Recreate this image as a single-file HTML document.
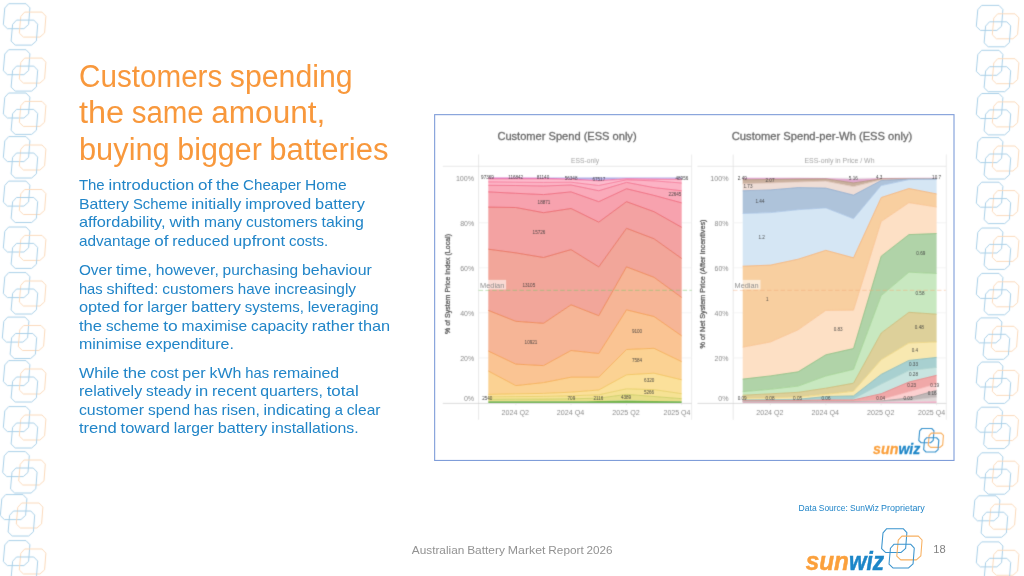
<!DOCTYPE html>
<html><head><meta charset="utf-8"><title>Slide 18</title>
<style>html,body{margin:0;padding:0;background:#fff;}body{width:1024px;height:576px;overflow:hidden;position:relative;font-family:"Liberation Sans",sans-serif;}svg{position:absolute;left:0;top:0;display:block;}text{font-family:"Liberation Sans",sans-serif;}</style>
</head><body>
<svg width="1024" height="576" viewBox="0 0 1024 576">
<defs><filter id="bl" x="-2%" y="-2%" width="104%" height="104%"><feConvolveMatrix order="3" kernelMatrix="1 6 1 6 36 6 1 6 1" edgeMode="none"/></filter><filter id="bl2" x="-5%" y="-2%" width="110%" height="104%"><feConvolveMatrix order="3" kernelMatrix="1 7 1 7 49 7 1 7 1" edgeMode="none"/></filter></defs>
<rect width="1024" height="576" fill="#ffffff"/>
<g filter="url(#bl2)">
<g transform="translate(3.30,3.70) scale(1.0000)" fill="none" stroke-width="1.00" stroke-linejoin="round"><polygon points="1.50,4.30 5.40,0.00 22.70,0.00 26.60,4.10 25.30,20.80 20.60,25.00 4.10,25.00 0.00,21.00" stroke="#aad0e8"/><polygon points="17.50,12.70 21.40,8.40 38.70,8.40 42.60,12.50 41.30,29.20 36.60,33.40 20.10,33.40 16.00,29.40" stroke="#fbdabb"/><polygon points="9.30,20.70 13.20,16.40 30.50,16.40 34.40,20.50 33.10,37.20 28.40,41.40 11.90,41.40 7.80,37.40" stroke="#aad0e8"/></g>
<g transform="translate(3.30,49.70) scale(1.0000)" fill="none" stroke-width="1.00" stroke-linejoin="round"><polygon points="1.50,4.30 5.40,0.00 22.70,0.00 26.60,4.10 25.30,20.80 20.60,25.00 4.10,25.00 0.00,21.00" stroke="#aad0e8"/><polygon points="17.50,12.70 21.40,8.40 38.70,8.40 42.60,12.50 41.30,29.20 36.60,33.40 20.10,33.40 16.00,29.40" stroke="#fbdabb"/><polygon points="9.30,20.70 13.20,16.40 30.50,16.40 34.40,20.50 33.10,37.20 28.40,41.40 11.90,41.40 7.80,37.40" stroke="#aad0e8"/></g>
<g transform="translate(3.30,93.00) scale(1.0000)" fill="none" stroke-width="1.00" stroke-linejoin="round"><polygon points="1.50,4.30 5.40,0.00 22.70,0.00 26.60,4.10 25.30,20.80 20.60,25.00 4.10,25.00 0.00,21.00" stroke="#aad0e8"/><polygon points="17.50,12.70 21.40,8.40 38.70,8.40 42.60,12.50 41.30,29.20 36.60,33.40 20.10,33.40 16.00,29.40" stroke="#fbdabb"/><polygon points="9.30,20.70 13.20,16.40 30.50,16.40 34.40,20.50 33.10,37.20 28.40,41.40 11.90,41.40 7.80,37.40" stroke="#aad0e8"/></g>
<g transform="translate(3.30,136.60) scale(1.0000)" fill="none" stroke-width="1.00" stroke-linejoin="round"><polygon points="1.50,4.30 5.40,0.00 22.70,0.00 26.60,4.10 25.30,20.80 20.60,25.00 4.10,25.00 0.00,21.00" stroke="#aad0e8"/><polygon points="17.50,12.70 21.40,8.40 38.70,8.40 42.60,12.50 41.30,29.20 36.60,33.40 20.10,33.40 16.00,29.40" stroke="#fbdabb"/><polygon points="9.30,20.70 13.20,16.40 30.50,16.40 34.40,20.50 33.10,37.20 28.40,41.40 11.90,41.40 7.80,37.40" stroke="#aad0e8"/></g>
<g transform="translate(3.30,181.10) scale(1.0000)" fill="none" stroke-width="1.00" stroke-linejoin="round"><polygon points="1.50,4.30 5.40,0.00 22.70,0.00 26.60,4.10 25.30,20.80 20.60,25.00 4.10,25.00 0.00,21.00" stroke="#aad0e8"/><polygon points="17.50,12.70 21.40,8.40 38.70,8.40 42.60,12.50 41.30,29.20 36.60,33.40 20.10,33.40 16.00,29.40" stroke="#fbdabb"/><polygon points="9.30,20.70 13.20,16.40 30.50,16.40 34.40,20.50 33.10,37.20 28.40,41.40 11.90,41.40 7.80,37.40" stroke="#aad0e8"/></g>
<g transform="translate(3.30,227.00) scale(1.0000)" fill="none" stroke-width="1.00" stroke-linejoin="round"><polygon points="1.50,4.30 5.40,0.00 22.70,0.00 26.60,4.10 25.30,20.80 20.60,25.00 4.10,25.00 0.00,21.00" stroke="#aad0e8"/><polygon points="17.50,12.70 21.40,8.40 38.70,8.40 42.60,12.50 41.30,29.20 36.60,33.40 20.10,33.40 16.00,29.40" stroke="#fbdabb"/><polygon points="9.30,20.70 13.20,16.40 30.50,16.40 34.40,20.50 33.10,37.20 28.40,41.40 11.90,41.40 7.80,37.40" stroke="#aad0e8"/></g>
<g transform="translate(3.30,272.60) scale(1.0000)" fill="none" stroke-width="1.00" stroke-linejoin="round"><polygon points="1.50,4.30 5.40,0.00 22.70,0.00 26.60,4.10 25.30,20.80 20.60,25.00 4.10,25.00 0.00,21.00" stroke="#aad0e8"/><polygon points="17.50,12.70 21.40,8.40 38.70,8.40 42.60,12.50 41.30,29.20 36.60,33.40 20.10,33.40 16.00,29.40" stroke="#fbdabb"/><polygon points="9.30,20.70 13.20,16.40 30.50,16.40 34.40,20.50 33.10,37.20 28.40,41.40 11.90,41.40 7.80,37.40" stroke="#aad0e8"/></g>
<g transform="translate(2.30,317.10) scale(1.0000)" fill="none" stroke-width="1.00" stroke-linejoin="round"><polygon points="1.50,4.30 5.40,0.00 22.70,0.00 26.60,4.10 25.30,20.80 20.60,25.00 4.10,25.00 0.00,21.00" stroke="#aad0e8"/><polygon points="17.50,12.70 21.40,8.40 38.70,8.40 42.60,12.50 41.30,29.20 36.60,33.40 20.10,33.40 16.00,29.40" stroke="#fbdabb"/><polygon points="9.30,20.70 13.20,16.40 30.50,16.40 34.40,20.50 33.10,37.20 28.40,41.40 11.90,41.40 7.80,37.40" stroke="#aad0e8"/></g>
<g transform="translate(3.30,360.60) scale(1.0000)" fill="none" stroke-width="1.00" stroke-linejoin="round"><polygon points="1.50,4.30 5.40,0.00 22.70,0.00 26.60,4.10 25.30,20.80 20.60,25.00 4.10,25.00 0.00,21.00" stroke="#aad0e8"/><polygon points="17.50,12.70 21.40,8.40 38.70,8.40 42.60,12.50 41.30,29.20 36.60,33.40 20.10,33.40 16.00,29.40" stroke="#fbdabb"/><polygon points="9.30,20.70 13.20,16.40 30.50,16.40 34.40,20.50 33.10,37.20 28.40,41.40 11.90,41.40 7.80,37.40" stroke="#aad0e8"/></g>
<g transform="translate(3.30,406.60) scale(1.0000)" fill="none" stroke-width="1.00" stroke-linejoin="round"><polygon points="1.50,4.30 5.40,0.00 22.70,0.00 26.60,4.10 25.30,20.80 20.60,25.00 4.10,25.00 0.00,21.00" stroke="#aad0e8"/><polygon points="17.50,12.70 21.40,8.40 38.70,8.40 42.60,12.50 41.30,29.20 36.60,33.40 20.10,33.40 16.00,29.40" stroke="#fbdabb"/><polygon points="9.30,20.70 13.20,16.40 30.50,16.40 34.40,20.50 33.10,37.20 28.40,41.40 11.90,41.40 7.80,37.40" stroke="#aad0e8"/></g>
<g transform="translate(2.70,451.60) scale(1.0000)" fill="none" stroke-width="1.00" stroke-linejoin="round"><polygon points="1.50,4.30 5.40,0.00 22.70,0.00 26.60,4.10 25.30,20.80 20.60,25.00 4.10,25.00 0.00,21.00" stroke="#aad0e8"/><polygon points="17.50,12.70 21.40,8.40 38.70,8.40 42.60,12.50 41.30,29.20 36.60,33.40 20.10,33.40 16.00,29.40" stroke="#fbdabb"/><polygon points="9.30,20.70 13.20,16.40 30.50,16.40 34.40,20.50 33.10,37.20 28.40,41.40 11.90,41.40 7.80,37.40" stroke="#aad0e8"/></g>
<g transform="translate(0.30,494.60) scale(1.0000)" fill="none" stroke-width="1.00" stroke-linejoin="round"><polygon points="1.50,4.30 5.40,0.00 22.70,0.00 26.60,4.10 25.30,20.80 20.60,25.00 4.10,25.00 0.00,21.00" stroke="#aad0e8"/><polygon points="17.50,12.70 21.40,8.40 38.70,8.40 42.60,12.50 41.30,29.20 36.60,33.40 20.10,33.40 16.00,29.40" stroke="#fbdabb"/><polygon points="9.30,20.70 13.20,16.40 30.50,16.40 34.40,20.50 33.10,37.20 28.40,41.40 11.90,41.40 7.80,37.40" stroke="#aad0e8"/></g>
<g transform="translate(3.30,540.60) scale(1.0000)" fill="none" stroke-width="1.00" stroke-linejoin="round"><polygon points="1.50,4.30 5.40,0.00 22.70,0.00 26.60,4.10 25.30,20.80 20.60,25.00 4.10,25.00 0.00,21.00" stroke="#aad0e8"/><polygon points="17.50,12.70 21.40,8.40 38.70,8.40 42.60,12.50 41.30,29.20 36.60,33.40 20.10,33.40 16.00,29.40" stroke="#fbdabb"/><polygon points="9.30,20.70 13.20,16.40 30.50,16.40 34.40,20.50 33.10,37.20 28.40,41.40 11.90,41.40 7.80,37.40" stroke="#aad0e8"/></g>
<g transform="translate(976.30,5.40) scale(1.0000)" fill="none" stroke-width="1.00" stroke-linejoin="round"><polygon points="1.50,4.30 5.40,0.00 22.70,0.00 26.60,4.10 25.30,20.80 20.60,25.00 4.10,25.00 0.00,21.00" stroke="#aad0e8"/><polygon points="17.50,12.70 21.40,8.40 38.70,8.40 42.60,12.50 41.30,29.20 36.60,33.40 20.10,33.40 16.00,29.40" stroke="#fbdabb"/><polygon points="9.30,20.70 13.20,16.40 30.50,16.40 34.40,20.50 33.10,37.20 28.40,41.40 11.90,41.40 7.80,37.40" stroke="#aad0e8"/></g>
<g transform="translate(976.30,50.30) scale(1.0000)" fill="none" stroke-width="1.00" stroke-linejoin="round"><polygon points="1.50,4.30 5.40,0.00 22.70,0.00 26.60,4.10 25.30,20.80 20.60,25.00 4.10,25.00 0.00,21.00" stroke="#aad0e8"/><polygon points="17.50,12.70 21.40,8.40 38.70,8.40 42.60,12.50 41.30,29.20 36.60,33.40 20.10,33.40 16.00,29.40" stroke="#fbdabb"/><polygon points="9.30,20.70 13.20,16.40 30.50,16.40 34.40,20.50 33.10,37.20 28.40,41.40 11.90,41.40 7.80,37.40" stroke="#aad0e8"/></g>
<g transform="translate(976.30,93.50) scale(1.0000)" fill="none" stroke-width="1.00" stroke-linejoin="round"><polygon points="1.50,4.30 5.40,0.00 22.70,0.00 26.60,4.10 25.30,20.80 20.60,25.00 4.10,25.00 0.00,21.00" stroke="#aad0e8"/><polygon points="17.50,12.70 21.40,8.40 38.70,8.40 42.60,12.50 41.30,29.20 36.60,33.40 20.10,33.40 16.00,29.40" stroke="#fbdabb"/><polygon points="9.30,20.70 13.20,16.40 30.50,16.40 34.40,20.50 33.10,37.20 28.40,41.40 11.90,41.40 7.80,37.40" stroke="#aad0e8"/></g>
<g transform="translate(976.30,137.60) scale(1.0000)" fill="none" stroke-width="1.00" stroke-linejoin="round"><polygon points="1.50,4.30 5.40,0.00 22.70,0.00 26.60,4.10 25.30,20.80 20.60,25.00 4.10,25.00 0.00,21.00" stroke="#aad0e8"/><polygon points="17.50,12.70 21.40,8.40 38.70,8.40 42.60,12.50 41.30,29.20 36.60,33.40 20.10,33.40 16.00,29.40" stroke="#fbdabb"/><polygon points="9.30,20.70 13.20,16.40 30.50,16.40 34.40,20.50 33.10,37.20 28.40,41.40 11.90,41.40 7.80,37.40" stroke="#aad0e8"/></g>
<g transform="translate(976.30,182.20) scale(1.0000)" fill="none" stroke-width="1.00" stroke-linejoin="round"><polygon points="1.50,4.30 5.40,0.00 22.70,0.00 26.60,4.10 25.30,20.80 20.60,25.00 4.10,25.00 0.00,21.00" stroke="#aad0e8"/><polygon points="17.50,12.70 21.40,8.40 38.70,8.40 42.60,12.50 41.30,29.20 36.60,33.40 20.10,33.40 16.00,29.40" stroke="#fbdabb"/><polygon points="9.30,20.70 13.20,16.40 30.50,16.40 34.40,20.50 33.10,37.20 28.40,41.40 11.90,41.40 7.80,37.40" stroke="#aad0e8"/></g>
<g transform="translate(976.30,228.00) scale(1.0000)" fill="none" stroke-width="1.00" stroke-linejoin="round"><polygon points="1.50,4.30 5.40,0.00 22.70,0.00 26.60,4.10 25.30,20.80 20.60,25.00 4.10,25.00 0.00,21.00" stroke="#aad0e8"/><polygon points="17.50,12.70 21.40,8.40 38.70,8.40 42.60,12.50 41.30,29.20 36.60,33.40 20.10,33.40 16.00,29.40" stroke="#fbdabb"/><polygon points="9.30,20.70 13.20,16.40 30.50,16.40 34.40,20.50 33.10,37.20 28.40,41.40 11.90,41.40 7.80,37.40" stroke="#aad0e8"/></g>
<g transform="translate(976.30,273.40) scale(1.0000)" fill="none" stroke-width="1.00" stroke-linejoin="round"><polygon points="1.50,4.30 5.40,0.00 22.70,0.00 26.60,4.10 25.30,20.80 20.60,25.00 4.10,25.00 0.00,21.00" stroke="#aad0e8"/><polygon points="17.50,12.70 21.40,8.40 38.70,8.40 42.60,12.50 41.30,29.20 36.60,33.40 20.10,33.40 16.00,29.40" stroke="#fbdabb"/><polygon points="9.30,20.70 13.20,16.40 30.50,16.40 34.40,20.50 33.10,37.20 28.40,41.40 11.90,41.40 7.80,37.40" stroke="#aad0e8"/></g>
<g transform="translate(975.30,317.90) scale(1.0000)" fill="none" stroke-width="1.00" stroke-linejoin="round"><polygon points="1.50,4.30 5.40,0.00 22.70,0.00 26.60,4.10 25.30,20.80 20.60,25.00 4.10,25.00 0.00,21.00" stroke="#aad0e8"/><polygon points="17.50,12.70 21.40,8.40 38.70,8.40 42.60,12.50 41.30,29.20 36.60,33.40 20.10,33.40 16.00,29.40" stroke="#fbdabb"/><polygon points="9.30,20.70 13.20,16.40 30.50,16.40 34.40,20.50 33.10,37.20 28.40,41.40 11.90,41.40 7.80,37.40" stroke="#aad0e8"/></g>
<g transform="translate(976.30,362.00) scale(1.0000)" fill="none" stroke-width="1.00" stroke-linejoin="round"><polygon points="1.50,4.30 5.40,0.00 22.70,0.00 26.60,4.10 25.30,20.80 20.60,25.00 4.10,25.00 0.00,21.00" stroke="#aad0e8"/><polygon points="17.50,12.70 21.40,8.40 38.70,8.40 42.60,12.50 41.30,29.20 36.60,33.40 20.10,33.40 16.00,29.40" stroke="#fbdabb"/><polygon points="9.30,20.70 13.20,16.40 30.50,16.40 34.40,20.50 33.10,37.20 28.40,41.40 11.90,41.40 7.80,37.40" stroke="#aad0e8"/></g>
<g transform="translate(975.90,407.20) scale(1.0000)" fill="none" stroke-width="1.00" stroke-linejoin="round"><polygon points="1.50,4.30 5.40,0.00 22.70,0.00 26.60,4.10 25.30,20.80 20.60,25.00 4.10,25.00 0.00,21.00" stroke="#aad0e8"/><polygon points="17.50,12.70 21.40,8.40 38.70,8.40 42.60,12.50 41.30,29.20 36.60,33.40 20.10,33.40 16.00,29.40" stroke="#fbdabb"/><polygon points="9.30,20.70 13.20,16.40 30.50,16.40 34.40,20.50 33.10,37.20 28.40,41.40 11.90,41.40 7.80,37.40" stroke="#aad0e8"/></g>
<g transform="translate(976.30,452.80) scale(1.0000)" fill="none" stroke-width="1.00" stroke-linejoin="round"><polygon points="1.50,4.30 5.40,0.00 22.70,0.00 26.60,4.10 25.30,20.80 20.60,25.00 4.10,25.00 0.00,21.00" stroke="#aad0e8"/><polygon points="17.50,12.70 21.40,8.40 38.70,8.40 42.60,12.50 41.30,29.20 36.60,33.40 20.10,33.40 16.00,29.40" stroke="#fbdabb"/><polygon points="9.30,20.70 13.20,16.40 30.50,16.40 34.40,20.50 33.10,37.20 28.40,41.40 11.90,41.40 7.80,37.40" stroke="#aad0e8"/></g>
<g transform="translate(973.30,495.80) scale(1.0000)" fill="none" stroke-width="1.00" stroke-linejoin="round"><polygon points="1.50,4.30 5.40,0.00 22.70,0.00 26.60,4.10 25.30,20.80 20.60,25.00 4.10,25.00 0.00,21.00" stroke="#aad0e8"/><polygon points="17.50,12.70 21.40,8.40 38.70,8.40 42.60,12.50 41.30,29.20 36.60,33.40 20.10,33.40 16.00,29.40" stroke="#fbdabb"/><polygon points="9.30,20.70 13.20,16.40 30.50,16.40 34.40,20.50 33.10,37.20 28.40,41.40 11.90,41.40 7.80,37.40" stroke="#aad0e8"/></g>
<g transform="translate(976.30,541.90) scale(1.0000)" fill="none" stroke-width="1.00" stroke-linejoin="round"><polygon points="1.50,4.30 5.40,0.00 22.70,0.00 26.60,4.10 25.30,20.80 20.60,25.00 4.10,25.00 0.00,21.00" stroke="#aad0e8"/><polygon points="17.50,12.70 21.40,8.40 38.70,8.40 42.60,12.50 41.30,29.20 36.60,33.40 20.10,33.40 16.00,29.40" stroke="#fbdabb"/><polygon points="9.30,20.70 13.20,16.40 30.50,16.40 34.40,20.50 33.10,37.20 28.40,41.40 11.90,41.40 7.80,37.40" stroke="#aad0e8"/></g>
</g>
<text x="79.00" y="86.50" font-size="31.00" fill="#f8983c" textLength="143.31" lengthAdjust="spacingAndGlyphs">Customers</text><text x="229.83" y="86.50" font-size="31.00" fill="#f8983c" textLength="122.71" lengthAdjust="spacingAndGlyphs">spending</text>
<text x="79.00" y="123.00" font-size="31.00" fill="#f8983c" textLength="45.15" lengthAdjust="spacingAndGlyphs">the</text><text x="131.67" y="123.00" font-size="31.00" fill="#f8983c" textLength="72.04" lengthAdjust="spacingAndGlyphs">same</text><text x="211.22" y="123.00" font-size="31.00" fill="#f8983c" textLength="114.09" lengthAdjust="spacingAndGlyphs">amount,</text>
<text x="79.00" y="159.50" font-size="31.00" fill="#f8983c" textLength="90.74" lengthAdjust="spacingAndGlyphs">buying</text><text x="177.26" y="159.50" font-size="31.00" fill="#f8983c" textLength="84.57" lengthAdjust="spacingAndGlyphs">bigger</text><text x="269.34" y="159.50" font-size="31.00" fill="#f8983c" textLength="119.14" lengthAdjust="spacingAndGlyphs">batteries</text>
<text x="78.90" y="190.30" font-size="14.60" fill="#2185c8" textLength="25.75" lengthAdjust="spacingAndGlyphs">The</text><text x="108.50" y="190.30" font-size="14.60" fill="#2185c8" textLength="85.66" lengthAdjust="spacingAndGlyphs">introduction</text><text x="198.02" y="190.30" font-size="14.60" fill="#2185c8" textLength="14.19" lengthAdjust="spacingAndGlyphs">of</text><text x="216.07" y="190.30" font-size="14.60" fill="#2185c8" textLength="23.15" lengthAdjust="spacingAndGlyphs">the</text><text x="243.07" y="190.30" font-size="14.60" fill="#2185c8" textLength="58.09" lengthAdjust="spacingAndGlyphs">Cheaper</text><text x="305.01" y="190.30" font-size="14.60" fill="#2185c8" textLength="41.72" lengthAdjust="spacingAndGlyphs">Home</text>
<text x="78.90" y="208.80" font-size="14.60" fill="#2185c8" textLength="50.14" lengthAdjust="spacingAndGlyphs">Battery</text><text x="132.90" y="208.80" font-size="14.60" fill="#2185c8" textLength="54.59" lengthAdjust="spacingAndGlyphs">Scheme</text><text x="191.34" y="208.80" font-size="14.60" fill="#2185c8" textLength="49.99" lengthAdjust="spacingAndGlyphs">initially</text><text x="245.19" y="208.80" font-size="14.60" fill="#2185c8" textLength="66.05" lengthAdjust="spacingAndGlyphs">improved</text><text x="315.10" y="208.80" font-size="14.60" fill="#2185c8" textLength="49.83" lengthAdjust="spacingAndGlyphs">battery</text>
<text x="78.90" y="227.30" font-size="14.60" fill="#2185c8" textLength="86.65" lengthAdjust="spacingAndGlyphs">affordability,</text><text x="169.40" y="227.30" font-size="14.60" fill="#2185c8" textLength="30.77" lengthAdjust="spacingAndGlyphs">with</text><text x="204.03" y="227.30" font-size="14.60" fill="#2185c8" textLength="38.15" lengthAdjust="spacingAndGlyphs">many</text><text x="246.03" y="227.30" font-size="14.60" fill="#2185c8" textLength="71.61" lengthAdjust="spacingAndGlyphs">customers</text><text x="321.49" y="227.30" font-size="14.60" fill="#2185c8" textLength="42.32" lengthAdjust="spacingAndGlyphs">taking</text>
<text x="78.90" y="245.80" font-size="14.60" fill="#2185c8" textLength="71.58" lengthAdjust="spacingAndGlyphs">advantage</text><text x="154.33" y="245.80" font-size="14.60" fill="#2185c8" textLength="14.19" lengthAdjust="spacingAndGlyphs">of</text><text x="172.38" y="245.80" font-size="14.60" fill="#2185c8" textLength="56.77" lengthAdjust="spacingAndGlyphs">reduced</text><text x="233.01" y="245.80" font-size="14.60" fill="#2185c8" textLength="52.15" lengthAdjust="spacingAndGlyphs">upfront</text><text x="289.01" y="245.80" font-size="14.60" fill="#2185c8" textLength="39.22" lengthAdjust="spacingAndGlyphs">costs.</text>
<text x="78.90" y="275.10" font-size="14.60" fill="#2185c8" textLength="33.25" lengthAdjust="spacingAndGlyphs">Over</text><text x="116.01" y="275.10" font-size="14.60" fill="#2185c8" textLength="35.86" lengthAdjust="spacingAndGlyphs">time,</text><text x="155.72" y="275.10" font-size="14.60" fill="#2185c8" textLength="63.07" lengthAdjust="spacingAndGlyphs">however,</text><text x="222.64" y="275.10" font-size="14.60" fill="#2185c8" textLength="75.51" lengthAdjust="spacingAndGlyphs">purchasing</text><text x="302.01" y="275.10" font-size="14.60" fill="#2185c8" textLength="69.79" lengthAdjust="spacingAndGlyphs">behaviour</text>
<text x="78.90" y="293.60" font-size="14.60" fill="#2185c8" textLength="23.79" lengthAdjust="spacingAndGlyphs">has</text><text x="106.55" y="293.60" font-size="14.60" fill="#2185c8" textLength="51.86" lengthAdjust="spacingAndGlyphs">shifted:</text><text x="162.26" y="293.60" font-size="14.60" fill="#2185c8" textLength="71.61" lengthAdjust="spacingAndGlyphs">customers</text><text x="237.72" y="293.60" font-size="14.60" fill="#2185c8" textLength="32.86" lengthAdjust="spacingAndGlyphs">have</text><text x="274.43" y="293.60" font-size="14.60" fill="#2185c8" textLength="81.65" lengthAdjust="spacingAndGlyphs">increasingly</text>
<text x="78.90" y="312.10" font-size="14.60" fill="#2185c8" textLength="40.84" lengthAdjust="spacingAndGlyphs">opted</text><text x="123.60" y="312.10" font-size="14.60" fill="#2185c8" textLength="19.78" lengthAdjust="spacingAndGlyphs">for</text><text x="147.23" y="312.10" font-size="14.60" fill="#2185c8" textLength="40.10" lengthAdjust="spacingAndGlyphs">larger</text><text x="191.19" y="312.10" font-size="14.60" fill="#2185c8" textLength="49.83" lengthAdjust="spacingAndGlyphs">battery</text><text x="244.87" y="312.10" font-size="14.60" fill="#2185c8" textLength="58.95" lengthAdjust="spacingAndGlyphs">systems,</text><text x="307.68" y="312.10" font-size="14.60" fill="#2185c8" textLength="71.01" lengthAdjust="spacingAndGlyphs">leveraging</text>
<text x="78.90" y="330.60" font-size="14.60" fill="#2185c8" textLength="23.15" lengthAdjust="spacingAndGlyphs">the</text><text x="105.91" y="330.60" font-size="14.60" fill="#2185c8" textLength="53.42" lengthAdjust="spacingAndGlyphs">scheme</text><text x="163.18" y="330.60" font-size="14.60" fill="#2185c8" textLength="14.54" lengthAdjust="spacingAndGlyphs">to</text><text x="181.58" y="330.60" font-size="14.60" fill="#2185c8" textLength="65.61" lengthAdjust="spacingAndGlyphs">maximise</text><text x="251.04" y="330.60" font-size="14.60" fill="#2185c8" textLength="56.91" lengthAdjust="spacingAndGlyphs">capacity</text><text x="311.81" y="330.60" font-size="14.60" fill="#2185c8" textLength="42.70" lengthAdjust="spacingAndGlyphs">rather</text><text x="358.36" y="330.60" font-size="14.60" fill="#2185c8" textLength="31.79" lengthAdjust="spacingAndGlyphs">than</text>
<text x="78.90" y="349.10" font-size="14.60" fill="#2185c8" textLength="63.09" lengthAdjust="spacingAndGlyphs">minimise</text><text x="145.84" y="349.10" font-size="14.60" fill="#2185c8" textLength="88.06" lengthAdjust="spacingAndGlyphs">expenditure.</text>
<text x="78.90" y="377.50" font-size="14.60" fill="#2185c8" textLength="40.44" lengthAdjust="spacingAndGlyphs">While</text><text x="123.19" y="377.50" font-size="14.60" fill="#2185c8" textLength="23.15" lengthAdjust="spacingAndGlyphs">the</text><text x="150.20" y="377.50" font-size="14.60" fill="#2185c8" textLength="28.25" lengthAdjust="spacingAndGlyphs">cost</text><text x="182.30" y="377.50" font-size="14.60" fill="#2185c8" textLength="23.39" lengthAdjust="spacingAndGlyphs">per</text><text x="209.54" y="377.50" font-size="14.60" fill="#2185c8" textLength="31.88" lengthAdjust="spacingAndGlyphs">kWh</text><text x="245.27" y="377.50" font-size="14.60" fill="#2185c8" textLength="23.79" lengthAdjust="spacingAndGlyphs">has</text><text x="272.92" y="377.50" font-size="14.60" fill="#2185c8" textLength="66.30" lengthAdjust="spacingAndGlyphs">remained</text>
<text x="78.90" y="396.10" font-size="14.60" fill="#2185c8" textLength="63.27" lengthAdjust="spacingAndGlyphs">relatively</text><text x="146.03" y="396.10" font-size="14.60" fill="#2185c8" textLength="45.33" lengthAdjust="spacingAndGlyphs">steady</text><text x="195.21" y="396.10" font-size="14.60" fill="#2185c8" textLength="12.87" lengthAdjust="spacingAndGlyphs">in</text><text x="211.94" y="396.10" font-size="14.60" fill="#2185c8" textLength="44.41" lengthAdjust="spacingAndGlyphs">recent</text><text x="260.20" y="396.10" font-size="14.60" fill="#2185c8" textLength="62.61" lengthAdjust="spacingAndGlyphs">quarters,</text><text x="326.67" y="396.10" font-size="14.60" fill="#2185c8" textLength="32.12" lengthAdjust="spacingAndGlyphs">total</text>
<text x="78.90" y="414.80" font-size="14.60" fill="#2185c8" textLength="65.23" lengthAdjust="spacingAndGlyphs">customer</text><text x="147.98" y="414.80" font-size="14.60" fill="#2185c8" textLength="42.03" lengthAdjust="spacingAndGlyphs">spend</text><text x="193.86" y="414.80" font-size="14.60" fill="#2185c8" textLength="23.79" lengthAdjust="spacingAndGlyphs">has</text><text x="221.51" y="414.80" font-size="14.60" fill="#2185c8" textLength="38.22" lengthAdjust="spacingAndGlyphs">risen,</text><text x="263.59" y="414.80" font-size="14.60" fill="#2185c8" textLength="67.30" lengthAdjust="spacingAndGlyphs">indicating</text><text x="334.74" y="414.80" font-size="14.60" fill="#2185c8" textLength="8.17" lengthAdjust="spacingAndGlyphs">a</text><text x="346.76" y="414.80" font-size="14.60" fill="#2185c8" textLength="33.72" lengthAdjust="spacingAndGlyphs">clear</text>
<text x="78.90" y="433.40" font-size="14.60" fill="#2185c8" textLength="37.83" lengthAdjust="spacingAndGlyphs">trend</text><text x="120.58" y="433.40" font-size="14.60" fill="#2185c8" textLength="49.30" lengthAdjust="spacingAndGlyphs">toward</text><text x="173.74" y="433.40" font-size="14.60" fill="#2185c8" textLength="40.10" lengthAdjust="spacingAndGlyphs">larger</text><text x="217.70" y="433.40" font-size="14.60" fill="#2185c8" textLength="49.83" lengthAdjust="spacingAndGlyphs">battery</text><text x="271.38" y="433.40" font-size="14.60" fill="#2185c8" textLength="87.27" lengthAdjust="spacingAndGlyphs">installations.</text>
<rect x="434.65" y="114.65" width="519.35" height="345.8" fill="#ffffff" stroke="#7f9dd9" stroke-width="1.1"/>
<g filter="url(#bl)">
<line x1="442.8" y1="166.3" x2="691.6" y2="166.3" stroke="#dedede" stroke-width="0.7"/>
<line x1="478.6" y1="154.5" x2="478.6" y2="419.8" stroke="#dedede" stroke-width="0.7"/>
<line x1="691.6" y1="154.5" x2="691.6" y2="419.8" stroke="#e4e4e4" stroke-width="0.7"/>
<line x1="442.8" y1="403.4" x2="691.6" y2="403.4" stroke="#cfcfcf" stroke-width="0.7"/>
<line x1="478.6" y1="357.9" x2="691.6" y2="357.9" stroke="#efefef" stroke-width="0.7"/>
<line x1="478.6" y1="312.8" x2="691.6" y2="312.8" stroke="#efefef" stroke-width="0.7"/>
<line x1="478.6" y1="267.8" x2="691.6" y2="267.8" stroke="#efefef" stroke-width="0.7"/>
<line x1="478.6" y1="222.7" x2="691.6" y2="222.7" stroke="#efefef" stroke-width="0.7"/>
<line x1="697.4" y1="166.3" x2="946.3" y2="166.3" stroke="#dedede" stroke-width="0.7"/>
<line x1="733.2" y1="154.5" x2="733.2" y2="419.8" stroke="#dedede" stroke-width="0.7"/>
<line x1="946.3" y1="154.5" x2="946.3" y2="419.8" stroke="#e4e4e4" stroke-width="0.7"/>
<line x1="697.4" y1="403.4" x2="946.3" y2="403.4" stroke="#cfcfcf" stroke-width="0.7"/>
<line x1="733.2" y1="357.9" x2="946.3" y2="357.9" stroke="#efefef" stroke-width="0.7"/>
<line x1="733.2" y1="312.8" x2="946.3" y2="312.8" stroke="#efefef" stroke-width="0.7"/>
<line x1="733.2" y1="267.8" x2="946.3" y2="267.8" stroke="#efefef" stroke-width="0.7"/>
<line x1="733.2" y1="222.7" x2="946.3" y2="222.7" stroke="#efefef" stroke-width="0.7"/>
<polygon points="488.30,177.50 515.80,177.50 543.50,177.50 571.00,177.50 598.75,177.50 626.50,177.50 654.00,177.50 681.70,177.50 681.70,178.80 654.00,178.60 626.50,178.30 598.75,179.90 571.00,178.60 543.50,177.70 515.80,177.50 488.30,177.50" fill="#b4b0e6"/>
<polygon points="488.30,177.50 515.80,177.50 543.50,177.70 571.00,178.60 598.75,179.90 626.50,178.30 654.00,178.60 681.70,178.80 681.70,179.60 654.00,179.40 626.50,179.00 598.75,180.90 571.00,179.50 543.50,178.90 515.80,178.90 488.30,178.90" fill="#d674c4"/>
<polygon points="488.30,178.90 515.80,178.90 543.50,178.90 571.00,179.50 598.75,180.90 626.50,179.00 654.00,179.40 681.70,179.60 681.70,183.00 654.00,180.90 626.50,179.80 598.75,185.50 571.00,182.20 543.50,182.40 515.80,182.20 488.30,181.90" fill="#fdbccd"/>
<polygon points="488.30,181.90 515.80,182.20 543.50,182.40 571.00,182.20 598.75,185.50 626.50,179.80 654.00,180.90 681.70,183.00 681.70,190.75 654.00,187.60 626.50,182.40 598.75,190.75 571.00,185.00 543.50,186.00 515.80,185.50 488.30,185.30" fill="#fcb3c5"/>
<polygon points="488.30,185.30 515.80,185.50 543.50,186.00 571.00,185.00 598.75,190.75 626.50,182.40 654.00,187.60 681.70,190.75 681.70,202.90 654.00,195.40 626.50,188.75 598.75,201.70 571.00,191.90 543.50,194.60 515.80,193.30 488.30,191.90" fill="#faaaba"/>
<polygon points="488.30,191.90 515.80,193.30 543.50,194.60 571.00,191.90 598.75,201.70 626.50,188.75 654.00,195.40 681.70,202.90 681.70,227.30 654.00,211.70 626.50,201.70 598.75,222.10 571.00,208.50 543.50,212.70 515.80,207.50 488.30,207.10" fill="#f7a2ae"/>
<polygon points="488.30,207.10 515.80,207.50 543.50,212.70 571.00,208.50 598.75,222.10 626.50,201.70 654.00,211.70 681.70,227.30 681.70,258.50 654.00,238.75 626.50,228.30 598.75,266.90 571.00,249.60 543.50,257.50 515.80,252.90 488.30,249.20" fill="#f3a2a2"/>
<polygon points="488.30,249.20 515.80,252.90 543.50,257.50 571.00,249.60 598.75,266.90 626.50,228.30 654.00,238.75 681.70,258.50 681.70,297.50 654.00,277.30 626.50,266.90 598.75,315.70 571.00,304.80 543.50,323.30 515.80,321.30 488.30,310.40" fill="#f2a69a"/>
<polygon points="488.30,310.40 515.80,321.30 543.50,323.30 571.00,304.80 598.75,315.70 626.50,266.90 654.00,277.30 681.70,297.50 681.70,335.90 654.00,316.50 626.50,309.90 598.75,353.50 571.00,350.50 543.50,365.60 515.80,364.10 488.30,351.00" fill="#f6b596"/>
<polygon points="488.30,351.00 515.80,364.10 543.50,365.60 571.00,350.50 598.75,353.50 626.50,309.90 654.00,316.50 681.70,335.90 681.70,361.70 654.00,348.30 626.50,349.50 598.75,377.20 571.00,377.20 543.50,382.60 515.80,385.60 488.30,371.00" fill="#fac493"/>
<polygon points="488.30,371.00 515.80,385.60 543.50,382.60 571.00,377.20 598.75,377.20 626.50,349.50 654.00,348.30 681.70,361.70 681.70,379.80 654.00,373.20 626.50,374.80 598.75,390.00 571.00,392.20 543.50,393.40 515.80,393.80 488.30,394.40" fill="#fbd293"/>
<polygon points="488.30,394.40 515.80,393.80 543.50,393.40 571.00,392.20 598.75,390.00 626.50,374.80 654.00,373.20 681.70,379.80 681.70,393.70 654.00,389.60 626.50,388.80 598.75,394.80 571.00,395.80 543.50,396.40 515.80,396.60 488.30,396.80" fill="#fbe09a"/>
<polygon points="488.30,396.80 515.80,396.60 543.50,396.40 571.00,395.80 598.75,394.80 626.50,388.80 654.00,389.60 681.70,393.70 681.70,398.70 654.00,396.50 626.50,394.40 598.75,398.20 571.00,398.80 543.50,399.10 515.80,399.20 488.30,399.30" fill="#f6e294"/>
<polygon points="488.30,399.30 515.80,399.20 543.50,399.10 571.00,398.80 598.75,398.20 626.50,394.40 654.00,396.50 681.70,398.70 681.70,401.30 654.00,400.90 626.50,400.40 598.75,401.10 571.00,401.20 543.50,401.30 515.80,401.30 488.30,401.30" fill="#e8de88"/>
<polygon points="488.30,401.30 515.80,401.30 543.50,401.30 571.00,401.20 598.75,401.10 626.50,400.40 654.00,400.90 681.70,401.30 681.70,402.90 654.00,402.90 626.50,402.90 598.75,402.90 571.00,402.90 543.50,402.90 515.80,402.90 488.30,402.90" fill="#72b44c"/>
<polyline points="488.30,178.90 515.80,178.90 543.50,178.90 571.00,179.50 598.75,180.90 626.50,179.00 654.00,179.40 681.70,179.60" fill="none" stroke="#f57fa2" stroke-width="0.80"/>
<polyline points="488.30,181.90 515.80,182.20 543.50,182.40 571.00,182.20 598.75,185.50 626.50,179.80 654.00,180.90 681.70,183.00" fill="none" stroke="#f47092" stroke-width="0.80"/>
<polyline points="488.30,185.30 515.80,185.50 543.50,186.00 571.00,185.00 598.75,190.75 626.50,182.40 654.00,187.60 681.70,190.75" fill="none" stroke="#f06484" stroke-width="0.80"/>
<polyline points="488.30,191.90 515.80,193.30 543.50,194.60 571.00,191.90 598.75,201.70 626.50,188.75 654.00,195.40 681.70,202.90" fill="none" stroke="#ec5a70" stroke-width="0.80"/>
<polyline points="488.30,207.10 515.80,207.50 543.50,212.70 571.00,208.50 598.75,222.10 626.50,201.70 654.00,211.70 681.70,227.30" fill="none" stroke="#e8585e" stroke-width="0.80"/>
<polyline points="488.30,249.20 515.80,252.90 543.50,257.50 571.00,249.60 598.75,266.90 626.50,228.30 654.00,238.75 681.70,258.50" fill="none" stroke="#e6644e" stroke-width="0.80"/>
<polyline points="488.30,310.40 515.80,321.30 543.50,323.30 571.00,304.80 598.75,315.70 626.50,266.90 654.00,277.30 681.70,297.50" fill="none" stroke="#ec7c44" stroke-width="0.80"/>
<polyline points="488.30,351.00 515.80,364.10 543.50,365.60 571.00,350.50 598.75,353.50 626.50,309.90 654.00,316.50 681.70,335.90" fill="none" stroke="#f29644" stroke-width="0.80"/>
<polyline points="488.30,371.00 515.80,385.60 543.50,382.60 571.00,377.20 598.75,377.20 626.50,349.50 654.00,348.30 681.70,361.70" fill="none" stroke="#f4a848" stroke-width="0.80"/>
<polyline points="488.30,394.40 515.80,393.80 543.50,393.40 571.00,392.20 598.75,390.00 626.50,374.80 654.00,373.20 681.70,379.80" fill="none" stroke="#f0be50" stroke-width="0.80"/>
<polyline points="488.30,396.80 515.80,396.60 543.50,396.40 571.00,395.80 598.75,394.80 626.50,388.80 654.00,389.60 681.70,393.70" fill="none" stroke="#e4cc60" stroke-width="0.80"/>
<polyline points="488.30,399.30 515.80,399.20 543.50,399.10 571.00,398.80 598.75,398.20 626.50,394.40 654.00,396.50 681.70,398.70" fill="none" stroke="#c8cc60" stroke-width="0.80"/>
<polygon points="742.70,177.70 770.40,177.70 798.10,177.70 825.80,177.70 853.50,177.70 881.20,177.70 908.90,177.70 936.60,177.70 936.60,177.70 908.90,177.70 881.20,178.00 853.50,179.30 825.80,178.00 798.10,177.70 770.40,177.70 742.70,177.70" fill="#e9e4e8"/>
<polygon points="742.70,177.70 770.40,177.70 798.10,177.70 825.80,178.00 853.50,179.30 881.20,178.00 908.90,177.70 936.60,177.70 936.60,178.80 908.90,178.80 881.20,178.90 853.50,182.90 825.80,178.90 798.10,179.10 770.40,179.50 742.70,179.80" fill="#dfa8cc"/>
<polygon points="742.70,179.80 770.40,179.50 798.10,179.10 825.80,178.90 853.50,182.90 881.20,178.90 908.90,178.80 936.60,178.80 936.60,178.90 908.90,179.00 881.20,179.80 853.50,186.60 825.80,181.20 798.10,181.90 770.40,182.90 742.70,183.70" fill="#c9b09e"/>
<polygon points="742.70,183.70 770.40,182.90 798.10,181.90 825.80,181.20 853.50,186.60 881.20,179.80 908.90,179.00 936.60,178.90 936.60,179.00 908.90,179.10 881.20,180.50 853.50,195.10 825.80,188.10 798.10,187.60 770.40,189.90 742.70,190.75" fill="#eeddd6"/>
<polygon points="742.70,190.75 770.40,189.90 798.10,187.60 825.80,188.10 853.50,195.10 881.20,180.50 908.90,179.10 936.60,179.00 936.60,179.20 908.90,179.60 881.20,185.50 853.50,218.70 825.80,207.90 798.10,209.70 770.40,212.60 742.70,213.50" fill="#aec3da"/>
<polygon points="742.70,213.50 770.40,212.60 798.10,209.70 825.80,207.90 853.50,218.70 881.20,185.50 908.90,179.60 936.60,179.20 936.60,193.90 908.90,188.50 881.20,197.50 853.50,257.80 825.80,250.30 798.10,259.20 770.40,265.10 742.70,266.20" fill="#d5e6f4"/>
<polygon points="742.70,266.20 770.40,265.10 798.10,259.20 825.80,250.30 853.50,257.80 881.20,197.50 908.90,188.50 936.60,193.90 936.60,207.00 908.90,202.70 881.20,221.50 853.50,310.20 825.80,310.40 798.10,329.80 770.40,342.00 742.70,347.20" fill="#f8cfa0"/>
<polygon points="742.70,347.20 770.40,342.00 798.10,329.80 825.80,310.40 853.50,310.20 881.20,221.50 908.90,202.70 936.60,207.00 936.60,233.50 908.90,234.60 881.20,256.20 853.50,348.50 825.80,354.80 798.10,371.80 770.40,375.90 742.70,379.10" fill="#fde0c5"/>
<polygon points="742.70,379.10 770.40,375.90 798.10,371.80 825.80,354.80 853.50,348.50 881.20,256.20 908.90,234.60 936.60,233.50 936.60,273.50 908.90,272.20 881.20,295.60 853.50,369.40 825.80,376.00 798.10,386.10 770.40,389.30 742.70,391.70" fill="#b0d3a8"/>
<polygon points="742.70,391.70 770.40,389.30 798.10,386.10 825.80,376.00 853.50,369.40 881.20,295.60 908.90,272.20 936.60,273.50 936.60,314.20 908.90,312.30 881.20,333.00 853.50,383.20 825.80,388.20 798.10,392.30 770.40,393.80 742.70,395.20" fill="#c8e8c0"/>
<polygon points="742.70,395.20 770.40,393.80 798.10,392.30 825.80,388.20 853.50,383.20 881.20,333.00 908.90,312.30 936.60,314.20 936.60,342.00 908.90,343.00 881.20,359.80 853.50,391.30 825.80,394.30 798.10,397.00 770.40,397.90 742.70,398.20" fill="#ddd09a"/>
<polygon points="742.70,398.20 770.40,397.90 798.10,397.00 825.80,394.30 853.50,391.30 881.20,359.80 908.90,343.00 936.60,342.00 936.60,357.40 908.90,360.40 881.20,374.40 853.50,395.90 825.80,396.50 798.10,399.30 770.40,399.70 742.70,399.90" fill="#f8e8b0"/>
<polygon points="742.70,399.90 770.40,399.70 798.10,399.30 825.80,396.50 853.50,395.90 881.20,374.40 908.90,360.40 936.60,357.40 936.60,367.40 908.90,370.60 881.20,384.00 853.50,398.90 825.80,399.40 798.10,400.20 770.40,400.40 742.70,400.50" fill="#a8d0d0"/>
<polygon points="742.70,400.50 770.40,400.40 798.10,400.20 825.80,399.40 853.50,398.90 881.20,384.00 908.90,370.60 936.60,367.40 936.60,375.30 908.90,382.00 881.20,393.70 853.50,399.90 825.80,399.90 798.10,400.50 770.40,400.60 742.70,400.70" fill="#c8e4e0"/>
<polygon points="742.70,400.70 770.40,400.60 798.10,400.50 825.80,399.90 853.50,399.90 881.20,393.70 908.90,382.00 936.60,375.30 936.60,383.80 908.90,391.70 881.20,399.40 853.50,401.40 825.80,401.50 798.10,401.60 770.40,401.60 742.70,401.60" fill="#f0a8a8"/>
<polygon points="742.70,401.60 770.40,401.60 798.10,401.60 825.80,401.50 853.50,401.40 881.20,399.40 908.90,391.70 936.60,383.80 936.60,390.30 908.90,398.00 881.20,401.00 853.50,401.60 825.80,401.60 798.10,401.70 770.40,401.70 742.70,401.70" fill="#fcd0d0"/>
<polygon points="742.70,401.70 770.40,401.70 798.10,401.70 825.80,401.60 853.50,401.60 881.20,401.00 908.90,398.00 936.60,390.30 936.60,397.10 908.90,400.40 881.20,401.40 853.50,401.70 825.80,401.70 798.10,401.70 770.40,401.70 742.70,401.70" fill="#c0b8b8"/>
<polygon points="742.70,401.70 770.40,401.70 798.10,401.70 825.80,401.70 853.50,401.70 881.20,401.40 908.90,400.40 936.60,397.10 936.60,401.20 908.90,401.50 881.20,401.70 853.50,401.80 825.80,401.80 798.10,401.80 770.40,401.80 742.70,401.80" fill="#e0d8d8"/>
<polygon points="742.70,401.80 770.40,401.80 798.10,401.80 825.80,401.80 853.50,401.80 881.20,401.70 908.90,401.50 936.60,401.20 936.60,402.90 908.90,402.90 881.20,402.90 853.50,402.90 825.80,402.90 798.10,402.90 770.40,402.90 742.70,402.90" fill="#ecb0c6"/>
<polyline points="742.70,179.80 770.40,179.50 798.10,179.10 825.80,178.90 853.50,182.90 881.20,178.90 908.90,178.80 936.60,178.80" fill="none" stroke="#b09078" stroke-width="0.80"/>
<polyline points="742.70,183.70 770.40,182.90 798.10,181.90 825.80,181.20 853.50,186.60 881.20,179.80 908.90,179.00 936.60,178.90" fill="none" stroke="#dcc0b4" stroke-width="0.80"/>
<polyline points="742.70,190.75 770.40,189.90 798.10,187.60 825.80,188.10 853.50,195.10 881.20,180.50 908.90,179.10 936.60,179.00" fill="none" stroke="#8eaacc" stroke-width="0.80"/>
<polyline points="742.70,213.50 770.40,212.60 798.10,209.70 825.80,207.90 853.50,218.70 881.20,185.50 908.90,179.60 936.60,179.20" fill="none" stroke="#a8c4e4" stroke-width="0.80"/>
<polyline points="742.70,266.20 770.40,265.10 798.10,259.20 825.80,250.30 853.50,257.80 881.20,197.50 908.90,188.50 936.60,193.90" fill="none" stroke="#f3b070" stroke-width="0.80"/>
<polyline points="742.70,347.20 770.40,342.00 798.10,329.80 825.80,310.40 853.50,310.20 881.20,221.50 908.90,202.70 936.60,207.00" fill="none" stroke="#f9c08c" stroke-width="0.80"/>
<polyline points="742.70,379.10 770.40,375.90 798.10,371.80 825.80,354.80 853.50,348.50 881.20,256.20 908.90,234.60 936.60,233.50" fill="none" stroke="#88bc7c" stroke-width="0.80"/>
<polyline points="742.70,391.70 770.40,389.30 798.10,386.10 825.80,376.00 853.50,369.40 881.20,295.60 908.90,272.20 936.60,273.50" fill="none" stroke="#a0d090" stroke-width="0.80"/>
<polyline points="742.70,395.20 770.40,393.80 798.10,392.30 825.80,388.20 853.50,383.20 881.20,333.00 908.90,312.30 936.60,314.20" fill="none" stroke="#c8b870" stroke-width="0.80"/>
<polyline points="742.70,398.20 770.40,397.90 798.10,397.00 825.80,394.30 853.50,391.30 881.20,359.80 908.90,343.00 936.60,342.00" fill="none" stroke="#ecd480" stroke-width="0.80"/>
<polyline points="742.70,399.90 770.40,399.70 798.10,399.30 825.80,396.50 853.50,395.90 881.20,374.40 908.90,360.40 936.60,357.40" fill="none" stroke="#80b8b8" stroke-width="0.80"/>
<polyline points="742.70,400.50 770.40,400.40 798.10,400.20 825.80,399.40 853.50,398.90 881.20,384.00 908.90,370.60 936.60,367.40" fill="none" stroke="#a8d0cc" stroke-width="0.80"/>
<polyline points="742.70,400.70 770.40,400.60 798.10,400.50 825.80,399.90 853.50,399.90 881.20,393.70 908.90,382.00 936.60,375.30" fill="none" stroke="#e08080" stroke-width="0.80"/>
<polyline points="742.70,401.60 770.40,401.60 798.10,401.60 825.80,401.50 853.50,401.40 881.20,399.40 908.90,391.70 936.60,383.80" fill="none" stroke="#f4b0b0" stroke-width="0.80"/>
<polyline points="742.70,401.70 770.40,401.70 798.10,401.70 825.80,401.60 853.50,401.60 881.20,401.00 908.90,398.00 936.60,390.30" fill="none" stroke="#a09898" stroke-width="0.80"/>
<polyline points="742.70,401.70 770.40,401.70 798.10,401.70 825.80,401.70 853.50,401.70 881.20,401.40 908.90,400.40 936.60,397.10" fill="none" stroke="#c8c0c0" stroke-width="0.80"/>
<line x1="478.6" y1="290.3" x2="691.8" y2="290.3" stroke="#7cc46c" stroke-opacity="0.6" stroke-width="0.9" stroke-dasharray="4.5 2.3"/>
<line x1="733" y1="290.3" x2="945.8" y2="290.3" stroke="#f4a870" stroke-opacity="0.5" stroke-width="0.9" stroke-dasharray="4.5 2.3"/>
<rect x="478.9" y="279.9" width="27.2" height="9.6" fill="#ffffff" fill-opacity="0.58"/>
<text x="480.10" y="287.80" font-size="7.70" fill="#8a8a8a" textLength="24.20" lengthAdjust="spacingAndGlyphs">Median</text>
<rect x="733.3" y="279.9" width="27.2" height="9.6" fill="#ffffff" fill-opacity="0.58"/>
<text x="734.50" y="287.80" font-size="7.70" fill="#8a8a8a" textLength="24.20" lengthAdjust="spacingAndGlyphs">Median</text>
<text x="487.50" y="178.60" font-size="4.60" fill="#3c3c3c" text-anchor="middle">97369</text>
<text x="515.70" y="178.50" font-size="4.60" fill="#3c3c3c" text-anchor="middle">116842</text>
<text x="543.00" y="179.00" font-size="4.60" fill="#3c3c3c" text-anchor="middle">81140</text>
<text x="571.10" y="179.50" font-size="4.60" fill="#3c3c3c" text-anchor="middle">56348</text>
<text x="598.80" y="180.60" font-size="4.60" fill="#3c3c3c" text-anchor="middle">67517</text>
<text x="681.90" y="179.90" font-size="4.60" fill="#3c3c3c" text-anchor="middle">48956</text>
<text x="675.00" y="196.20" font-size="4.60" fill="#3c3c3c" text-anchor="middle">22645</text>
<text x="544.00" y="203.50" font-size="4.60" fill="#3c3c3c" text-anchor="middle">18871</text>
<text x="539.00" y="233.90" font-size="4.60" fill="#3c3c3c" text-anchor="middle">15726</text>
<text x="528.80" y="287.20" font-size="4.60" fill="#3c3c3c" text-anchor="middle">13105</text>
<text x="531.00" y="343.80" font-size="4.60" fill="#3c3c3c" text-anchor="middle">10921</text>
<text x="637.00" y="332.90" font-size="4.60" fill="#3c3c3c" text-anchor="middle">9100</text>
<text x="637.00" y="362.10" font-size="4.60" fill="#3c3c3c" text-anchor="middle">7584</text>
<text x="649.20" y="382.20" font-size="4.60" fill="#3c3c3c" text-anchor="middle">6320</text>
<text x="649.00" y="394.40" font-size="4.60" fill="#3c3c3c" text-anchor="middle">5266</text>
<text x="626.00" y="399.20" font-size="4.60" fill="#3c3c3c" text-anchor="middle">4389</text>
<text x="598.50" y="400.00" font-size="4.60" fill="#3c3c3c" text-anchor="middle">2116</text>
<text x="571.40" y="400.00" font-size="4.60" fill="#3c3c3c" text-anchor="middle">709</text>
<text x="487.30" y="400.20" font-size="4.60" fill="#3c3c3c" text-anchor="middle">2540</text>
<text x="742.30" y="179.90" font-size="4.60" fill="#3c3c3c" text-anchor="middle">2.49</text>
<text x="770.00" y="182.10" font-size="4.60" fill="#3c3c3c" text-anchor="middle">2.07</text>
<text x="748.00" y="188.00" font-size="4.60" fill="#3c3c3c" text-anchor="middle">1.73</text>
<text x="760.00" y="202.90" font-size="4.60" fill="#3c3c3c" text-anchor="middle">1.44</text>
<text x="761.70" y="239.40" font-size="4.60" fill="#3c3c3c" text-anchor="middle">1.2</text>
<text x="853.30" y="180.30" font-size="4.60" fill="#3c3c3c" text-anchor="middle">5.16</text>
<text x="879.20" y="178.80" font-size="4.60" fill="#3c3c3c" text-anchor="middle">4.3</text>
<text x="936.60" y="178.80" font-size="4.60" fill="#3c3c3c" text-anchor="middle">10.7</text>
<text x="920.80" y="255.35" font-size="4.60" fill="#3c3c3c" text-anchor="middle">0.69</text>
<text x="920.00" y="295.10" font-size="4.60" fill="#3c3c3c" text-anchor="middle">0.58</text>
<text x="767.20" y="300.60" font-size="4.60" fill="#3c3c3c" text-anchor="middle">1</text>
<text x="838.20" y="330.70" font-size="4.60" fill="#3c3c3c" text-anchor="middle">0.83</text>
<text x="919.30" y="329.00" font-size="4.60" fill="#3c3c3c" text-anchor="middle">0.48</text>
<text x="914.90" y="351.80" font-size="4.60" fill="#3c3c3c" text-anchor="middle">0.4</text>
<text x="913.50" y="366.20" font-size="4.60" fill="#3c3c3c" text-anchor="middle">0.33</text>
<text x="913.50" y="375.90" font-size="4.60" fill="#3c3c3c" text-anchor="middle">0.28</text>
<text x="911.70" y="386.60" font-size="4.60" fill="#3c3c3c" text-anchor="middle">0.23</text>
<text x="934.70" y="387.10" font-size="4.60" fill="#3c3c3c" text-anchor="middle">0.19</text>
<text x="932.20" y="394.90" font-size="4.60" fill="#3c3c3c" text-anchor="middle">0.16</text>
<text x="880.70" y="400.00" font-size="4.60" fill="#3c3c3c" text-anchor="middle">0.04</text>
<text x="908.00" y="400.00" font-size="4.60" fill="#3c3c3c" text-anchor="middle">0.03</text>
<text x="742.20" y="400.00" font-size="4.60" fill="#3c3c3c" text-anchor="middle">0.09</text>
<text x="770.00" y="400.20" font-size="4.60" fill="#3c3c3c" text-anchor="middle">0.08</text>
<text x="797.60" y="400.20" font-size="4.60" fill="#3c3c3c" text-anchor="middle">0.05</text>
<text x="826.00" y="400.20" font-size="4.60" fill="#3c3c3c" text-anchor="middle">0.06</text>
<text x="497.40" y="140.40" font-size="11.00" fill="#666666" textLength="139.20" lengthAdjust="spacingAndGlyphs" stroke="#666666" stroke-width="0.28">Customer Spend (ESS only)</text>
<text x="731.80" y="140.40" font-size="11.00" fill="#666666" textLength="180.50" lengthAdjust="spacingAndGlyphs" stroke="#666666" stroke-width="0.28">Customer Spend-per-Wh (ESS only)</text>
<text x="571.00" y="163.40" font-size="6.60" fill="#a4a4a4" textLength="28.00" lengthAdjust="spacingAndGlyphs">ESS-only</text>
<text x="804.50" y="163.40" font-size="6.60" fill="#a4a4a4" textLength="70.00" lengthAdjust="spacingAndGlyphs">ESS-only in Price / Wh</text>
<text x="474.20" y="401.00" font-size="7.70" fill="#8c8c8c" textLength="10.30" lengthAdjust="spacingAndGlyphs" text-anchor="end">0%</text>
<text x="474.20" y="361.06" font-size="7.70" fill="#8c8c8c" textLength="14.00" lengthAdjust="spacingAndGlyphs" text-anchor="end">20%</text>
<text x="474.20" y="316.02" font-size="7.70" fill="#8c8c8c" textLength="14.00" lengthAdjust="spacingAndGlyphs" text-anchor="end">40%</text>
<text x="474.20" y="270.98" font-size="7.70" fill="#8c8c8c" textLength="14.00" lengthAdjust="spacingAndGlyphs" text-anchor="end">60%</text>
<text x="474.20" y="225.94" font-size="7.70" fill="#8c8c8c" textLength="14.00" lengthAdjust="spacingAndGlyphs" text-anchor="end">80%</text>
<text x="474.20" y="180.90" font-size="7.70" fill="#8c8c8c" textLength="18.30" lengthAdjust="spacingAndGlyphs" text-anchor="end">100%</text>
<text x="728.60" y="401.00" font-size="7.70" fill="#8c8c8c" textLength="10.30" lengthAdjust="spacingAndGlyphs" text-anchor="end">0%</text>
<text x="728.60" y="361.06" font-size="7.70" fill="#8c8c8c" textLength="14.00" lengthAdjust="spacingAndGlyphs" text-anchor="end">20%</text>
<text x="728.60" y="316.02" font-size="7.70" fill="#8c8c8c" textLength="14.00" lengthAdjust="spacingAndGlyphs" text-anchor="end">40%</text>
<text x="728.60" y="270.98" font-size="7.70" fill="#8c8c8c" textLength="14.00" lengthAdjust="spacingAndGlyphs" text-anchor="end">60%</text>
<text x="728.60" y="225.94" font-size="7.70" fill="#8c8c8c" textLength="14.00" lengthAdjust="spacingAndGlyphs" text-anchor="end">80%</text>
<text x="728.60" y="180.90" font-size="7.70" fill="#8c8c8c" textLength="18.30" lengthAdjust="spacingAndGlyphs" text-anchor="end">100%</text>
<text x="515.30" y="414.50" font-size="7.30" fill="#8c8c8c" textLength="27.40" lengthAdjust="spacingAndGlyphs" text-anchor="middle">2024 Q2</text>
<text x="570.50" y="414.50" font-size="7.30" fill="#8c8c8c" textLength="27.40" lengthAdjust="spacingAndGlyphs" text-anchor="middle">2024 Q4</text>
<text x="626.00" y="414.50" font-size="7.30" fill="#8c8c8c" textLength="27.40" lengthAdjust="spacingAndGlyphs" text-anchor="middle">2025 Q2</text>
<text x="690.50" y="414.50" font-size="7.30" fill="#8c8c8c" textLength="27.00" lengthAdjust="spacingAndGlyphs" text-anchor="end">2025 Q4</text>
<line x1="515.8" y1="403.8" x2="515.8" y2="405.2" stroke="#e2e2e2" stroke-width="0.7"/>
<line x1="571.0" y1="403.8" x2="571.0" y2="405.2" stroke="#e2e2e2" stroke-width="0.7"/>
<line x1="626.5" y1="403.8" x2="626.5" y2="405.2" stroke="#e2e2e2" stroke-width="0.7"/>
<line x1="681.7" y1="403.8" x2="681.7" y2="405.2" stroke="#e2e2e2" stroke-width="0.7"/>
<text x="769.90" y="414.50" font-size="7.30" fill="#8c8c8c" textLength="27.40" lengthAdjust="spacingAndGlyphs" text-anchor="middle">2024 Q2</text>
<text x="825.30" y="414.50" font-size="7.30" fill="#8c8c8c" textLength="27.40" lengthAdjust="spacingAndGlyphs" text-anchor="middle">2024 Q4</text>
<text x="880.70" y="414.50" font-size="7.30" fill="#8c8c8c" textLength="27.40" lengthAdjust="spacingAndGlyphs" text-anchor="middle">2025 Q2</text>
<text x="945.10" y="414.50" font-size="7.30" fill="#8c8c8c" textLength="27.00" lengthAdjust="spacingAndGlyphs" text-anchor="end">2025 Q4</text>
<line x1="770.4" y1="403.8" x2="770.4" y2="405.2" stroke="#e2e2e2" stroke-width="0.7"/>
<line x1="825.8" y1="403.8" x2="825.8" y2="405.2" stroke="#e2e2e2" stroke-width="0.7"/>
<line x1="881.2" y1="403.8" x2="881.2" y2="405.2" stroke="#e2e2e2" stroke-width="0.7"/>
<line x1="936.6" y1="403.8" x2="936.6" y2="405.2" stroke="#e2e2e2" stroke-width="0.7"/>
<text transform="translate(450.2,284) rotate(-90)" text-anchor="middle" font-size="7.0" fill="#555555" stroke="#555555" stroke-width="0.26" textLength="100" lengthAdjust="spacingAndGlyphs">% of System Price Index (Local)</text>
<text transform="translate(704.5,284) rotate(-90)" text-anchor="middle" font-size="7.0" fill="#555555" stroke="#555555" stroke-width="0.26" textLength="129" lengthAdjust="spacingAndGlyphs">% of Net System Price (After Incentives)</text>
</g>
<g filter="url(#bl2)"><text x="873.10" y="453.90" font-size="15.00" fill="#fba03c" textLength="25.30" lengthAdjust="spacingAndGlyphs" font-weight="bold" font-style="italic" stroke="#fba03c" stroke-width="0.30">sun</text><text x="898.40" y="453.90" font-size="15.00" fill="#1c86c8" textLength="21.80" lengthAdjust="spacingAndGlyphs" font-weight="bold" font-style="italic" stroke="#1c86c8" stroke-width="0.30">wiz</text><g transform="translate(918.80,428.50) scale(0.5700)" fill="none" stroke-width="2.02" stroke-linejoin="round"><polygon points="1.50,4.30 5.40,0.00 22.70,0.00 26.60,4.10 25.30,20.80 20.60,25.00 4.10,25.00 0.00,21.00" stroke="#3a94ce"/><polygon points="18.10,12.40 22.00,8.10 39.30,8.10 43.20,12.20 41.90,28.90 37.20,33.10 20.70,33.10 16.60,29.10" stroke="#f8b060"/><polygon points="10.00,20.50 13.90,16.20 31.20,16.20 35.10,20.30 33.80,37.00 29.10,41.20 12.60,41.20 8.50,37.20" stroke="#3a94ce"/></g></g>
<g><text x="805.70" y="569.80" font-size="25.00" fill="#fba03c" textLength="43.20" lengthAdjust="spacingAndGlyphs" font-weight="bold" font-style="italic" stroke="#fba03c" stroke-width="0.50">sun</text><text x="848.90" y="569.80" font-size="25.00" fill="#1c86c8" textLength="35.10" lengthAdjust="spacingAndGlyphs" font-weight="bold" font-style="italic" stroke="#1c86c8" stroke-width="0.50">wiz</text><g transform="translate(881.60,528.70) scale(0.9500)" fill="none" stroke-width="1.11" stroke-linejoin="round"><polygon points="1.50,4.30 5.40,0.00 22.70,0.00 26.60,4.10 25.30,20.80 20.60,25.00 4.10,25.00 0.00,21.00" stroke="#3a94ce"/><polygon points="17.50,12.10 21.40,7.80 38.70,7.80 42.60,11.90 41.30,28.60 36.60,32.80 20.10,32.80 16.00,28.80" stroke="#f8b060"/><polygon points="9.30,20.60 13.20,16.30 30.50,16.30 34.40,20.40 33.10,37.10 28.40,41.30 11.90,41.30 7.80,37.30" stroke="#3a94ce"/></g></g>
<text x="798.60" y="510.50" font-size="8.60" fill="#2185c8" textLength="18.04" lengthAdjust="spacingAndGlyphs">Data</text><text x="818.80" y="510.50" font-size="8.60" fill="#2185c8" textLength="29.01" lengthAdjust="spacingAndGlyphs">Source:</text><text x="849.97" y="510.50" font-size="8.60" fill="#2185c8" textLength="28.91" lengthAdjust="spacingAndGlyphs">SunWiz</text><text x="881.04" y="510.50" font-size="8.60" fill="#2185c8" textLength="43.79" lengthAdjust="spacingAndGlyphs">Proprietary</text>
<text x="411.80" y="553.70" font-size="11.20" fill="#929292" textLength="52.47" lengthAdjust="spacingAndGlyphs">Australian</text><text x="467.17" y="553.70" font-size="11.20" fill="#929292" textLength="37.73" lengthAdjust="spacingAndGlyphs">Battery</text><text x="507.80" y="553.70" font-size="11.20" fill="#929292" textLength="37.62" lengthAdjust="spacingAndGlyphs">Market</text><text x="548.32" y="553.70" font-size="11.20" fill="#929292" textLength="35.40" lengthAdjust="spacingAndGlyphs">Report</text><text x="586.62" y="553.70" font-size="11.20" fill="#929292" textLength="26.01" lengthAdjust="spacingAndGlyphs">2026</text>
<text x="933.20" y="553.30" font-size="11.50" fill="#828282" textLength="12.40" lengthAdjust="spacingAndGlyphs">18</text>
</svg></body></html>
